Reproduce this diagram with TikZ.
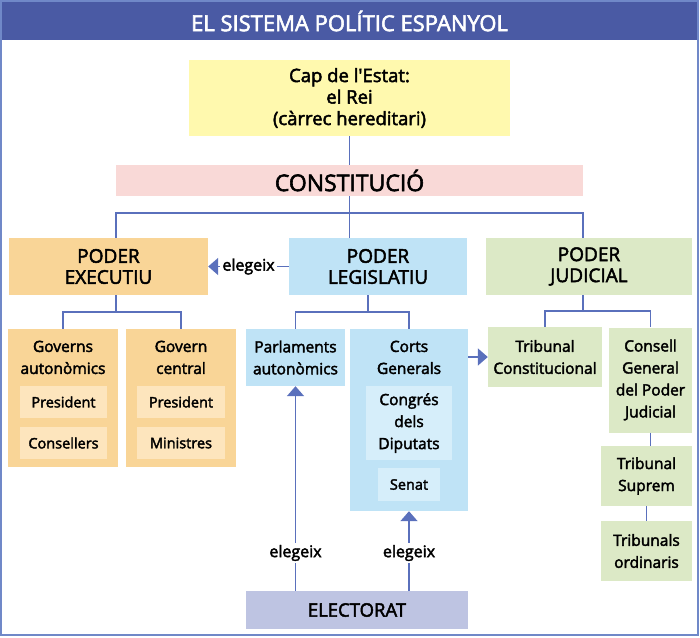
\documentclass[tikz,border=0pt]{standalone}
\usepackage{fontspec}
\setmainfont{Open Sans}[Ligatures=TeXOff, BoldFont={Open Sans}, BoldFeatures={FakeBold=2.5}]
\usepackage{xcolor}
\usetikzlibrary{arrows.meta,calc}

\definecolor{titleblue}{HTML}{4A5AA4}
\definecolor{framecol}{HTML}{7088C8}
\definecolor{linkcol}{HTML}{5A70BC}
\definecolor{kingcol}{HTML}{FFF9AE}
\definecolor{constcol}{HTML}{F9D9D7}
\definecolor{execcol}{HTML}{F9D597}
\definecolor{execin}{HTML}{FDE5BD}
\definecolor{legcol}{HTML}{BFE3F6}
\definecolor{legin}{HTML}{D6EEFA}
\definecolor{judcol}{HTML}{DCE9C6}
\definecolor{votecol}{HTML}{BEC4E2}

\tikzset{
  box/.style={inner sep=0pt, align=center, font=\fontsize{15.5}{22}\selectfont\bfseries},
  inbox/.style={box, font=\fontsize{14.5}{18}\selectfont\bfseries},
  head/.style={box, font=\fontsize{19}{21}\selectfont\bfseries},
  link/.style={draw=linkcol, line width=1.7pt},
  elegeix/.style={link, -{Triangle[width=17pt,length=10pt]}},
  votes/.style={fill=white, inner sep=2pt, font=\fontsize{16}{18}\selectfont\bfseries}
}

\begin{document}
\begin{tikzpicture}[x=1pt,y=-1pt]
  \useasboundingbox (0,0) rectangle (700,637);
  % frame and title
  \fill[titleblue] (1,1) rectangle (698,40);
  \draw[framecol, line width=2pt] (1,1) rectangle (698,635);
  \node[text=white, font=\fontsize{22}{24}\selectfont\bfseries] (title) at (349.5,21) {EL SISTEMA POLÍTIC ESPANYOL};

  % top
  \node[box, fill=kingcol, minimum width=321pt, minimum height=76pt, font=\fontsize{18.5}{21.5}\selectfont\bfseries]
    (king) at (349.5,98) {Cap de l'Estat:\\el Rei\\(càrrec hereditari)};
  \node[box, fill=constcol, minimum width=467pt, minimum height=31pt, font=\fontsize{23}{24}\selectfont\bfseries]
    (const) at (349.5,180.5) {CONSTITUCIÓ};

  % the three powers
  \node[head, fill=execcol, minimum width=199pt, minimum height=57pt] (exec) at (108.5,266.5) {PODER\\EXECUTIU};
  \node[head, fill=legcol, minimum width=178pt, minimum height=57pt] (legis) at (378,266.5) {PODER\\LEGISLATIU};
  \node[head, fill=judcol, minimum width=206pt, minimum height=57pt] (judic) at (589,266.5) {PODER\\JUDICIAL};

  % executive
  \node[box, fill=execcol, minimum width=110pt, minimum height=138pt] (govaut) at (63,398) {};
  \node[box, anchor=north] at (63,340.5) {Governs\\autonòmics};
  \node[box, fill=execcol, minimum width=110pt, minimum height=138pt] (govcen) at (181,398) {};
  \node[box, anchor=north] at (181,340.5) {Govern\\central};
  \node[inbox, fill=execin, minimum width=87pt, minimum height=32pt] (pres1) at (63.5,402) {President};
  \node[inbox, fill=execin, minimum width=87pt, minimum height=32pt] (cons) at (63.5,443) {Consellers};
  \node[inbox, fill=execin, minimum width=88pt, minimum height=32pt] (pres2) at (181,402) {President};
  \node[inbox, fill=execin, minimum width=88pt, minimum height=32pt] (mini) at (181,443) {Ministres};

  % legislative
  \node[box, fill=legcol, minimum width=99pt, minimum height=57pt] (parl) at (295.5,357.5) {Parlaments\\autonòmics};
  \node[box, fill=legcol, minimum width=118pt, minimum height=182pt] (corts) at (409,420) {};
  \node[box, anchor=north] at (409,340.5) {Corts\\Generals};
  \node[box, fill=legin, minimum width=86pt, minimum height=74pt] (congres) at (409,423) {Congrés\\dels\\Diputats};
  \node[inbox, fill=legin, minimum width=62pt, minimum height=33pt] (senat) at (409,484.5) {Senat};

  % judicial
  \node[box, fill=judcol, minimum width=114pt, minimum height=60pt] (tconst) at (545,357) {Tribunal\\Constitucional};
  \node[box, fill=judcol, minimum width=83pt, minimum height=105pt] (cgpj) at (650.5,380) {Consell\\General\\del Poder\\Judicial};
  \node[box, fill=judcol, minimum width=91pt, minimum height=60pt] (tsup) at (646.5,476) {Tribunal\\Suprem};
  \node[box, fill=judcol, minimum width=91pt, minimum height=60pt] (tord) at (646.5,551) {Tribunals\\ordinaris};

  % voters
  \node[head, fill=votecol, minimum width=222pt, minimum height=38pt, font=\fontsize{18.5}{20}\selectfont\bfseries] (elect) at (357,610) {ELECTORAT};

  % connectors
  \draw[link] (king) -- (const);
  \draw[link] (const.south) -- (legis.north -| const.south);
  \draw[link] (exec.north -| const.west) -- ++(0,-25) -| (judic.north -| const.east);
  \draw[link] (exec.south -| const.west) -- ++(0,17);
  \draw[link] (govaut.north) -- ++(0,-17) -| (govcen.north);
  \draw[link] ($(legis.south)+(-10,0)$) -- ++(0,17);
  \draw[link] (parl.north) -- ++(0,-17) -| (corts.north);
  \draw[link] (judic.south -| const.east) -- ++(0,16);
  \draw[link] (tconst.north) -- ++(0,-16) -| (cgpj.north);
  \draw[link] (cgpj.south) -- (tsup.north -| cgpj.south);
  \draw[link] (tsup) -- (tord);

  % arrows
  \draw[elegeix] (legis.west) -- node[votes] {elegeix} (exec.east);
  \draw[elegeix] (corts.east |- tconst) -- (tconst.west);
  \draw[elegeix] (elect.north -| parl.south) -- node[votes, pos=0.185] {elegeix} (parl.south);
  \draw[elegeix] (elect.north -| corts.south) -- node[votes, pos=0.475] {elegeix} (corts.south);
\end{tikzpicture}
\end{document}
